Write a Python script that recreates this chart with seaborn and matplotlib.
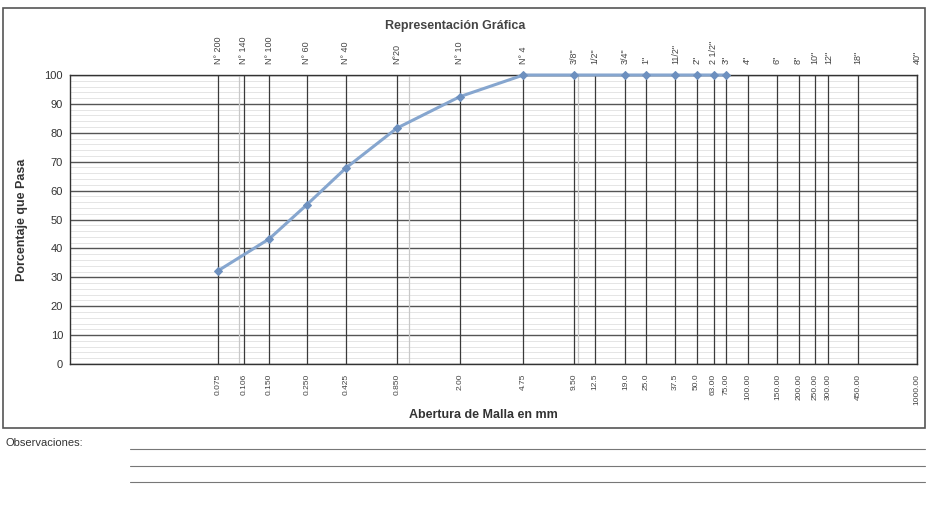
import numpy as np
import pandas as pd
import matplotlib
matplotlib.use('Agg')
import matplotlib.pyplot as plt
from matplotlib.patches import Rectangle
from matplotlib.lines import Line2D
from matplotlib.ticker import NullLocator, NullFormatter
import seaborn as sns

# sieve openings (mm) and their names
sizes_mm = [0.075, 0.106, 0.150, 0.250, 0.425, 0.850, 2.00, 4.75, 9.50, 12.5, 19.0, 25.0,
            37.5, 50.0, 63.0, 75.0, 100.0, 150.0, 200.0, 250.0, 300.0, 450.0, 1000.0]
mm_labels = ['0.075', '0.106', '0.150', '0.250', '0.425', '0.850', '2.00', '4.75', '9.50', '12.5',
             '19.0', '25.0', '37.5', '50.0', '63.00', '75.00', '100.00', '150.00', '200.00',
             '250.00', '300.00', '450.00', '1000.00']
sieve_labels = ['N° 200', 'N° 140', 'N° 100', 'N° 60', 'N° 40', 'N°20', 'N° 10', 'N° 4', '3/8"',
                '1/2"', '3/4"', '1"', '11/2"', '2"', '2 1/2"', '3"', '4"', '6"', '8"', '10"',
                '12"', '18"', '40"']

# grading curve
curve_mm = [0.075, 0.150, 0.250, 0.425, 0.850, 2.00, 4.75, 9.50, 19.0, 25.0, 37.5, 50.0, 63.0, 75.0]
curve_pass = [32.3, 43.3, 55.1, 67.8, 81.6, 92.5, 100, 100, 100, 100, 100, 100, 100, 100]

sns.set_style('white')
plt.rcParams['font.family'] = ['Liberation Sans', 'DejaVu Sans']

W, H = 927, 508
fig = plt.figure(figsize=(W / 100, H / 100), dpi=100)
ax = fig.add_axes([70 / W, 1 - 364 / H, 847 / W, 289 / H])

df = pd.DataFrame({'mm': curve_mm, 'pasa': curve_pass})
sns.lineplot(data=df, x='mm', y='pasa', ax=ax, color='#86a6cf', linewidth=2.2,
             marker='D', markersize=3.6, markerfacecolor='#6d90bf', markeredgecolor='#6d90bf',
             zorder=5, clip_on=False)

ax.set_xscale('log')
ax.set_xlim(0.01, 1000)
ax.set_ylim(0, 100)

# bottom axis: openings in mm
ax.set_xticks(sizes_mm)
ax.set_xticklabels(mm_labels, rotation=90, fontsize=6, color='#444')
ax.set_xticks([0.1, 1, 10], minor=True)
ax.xaxis.set_minor_formatter(NullFormatter())
ax.tick_params(axis='x', which='both', length=0, pad=7)

ax.set_yticks(range(0, 101, 10))
ax.set_yticks(range(0, 101, 2), minor=True)
ax.tick_params(axis='y', which='both', length=0, pad=5, labelsize=8, labelcolor='#333')

ax.grid(axis='x', which='major', color='#3a3a3a', linewidth=0.9)
ax.grid(axis='x', which='minor', color='#c8c8c8', linewidth=0.9)
ax.grid(axis='y', which='major', color='#555555', linewidth=1.0)
ax.grid(axis='y', which='minor', color='#dadada', linewidth=0.5)
ax.set_axisbelow(True)
# vertical sieve lines over the fine horizontal ruling
ax.xaxis.set_zorder(0.6)
for s in ax.spines.values():
    s.set_color('#333')
    s.set_linewidth(1.0)
ax.set_xlabel('')
ax.set_ylabel('')

# top axis: sieve names
top = ax.secondary_xaxis('top')
top.set_xticks(sizes_mm)
top.set_xticklabels(sieve_labels, rotation=90, fontsize=6.5, color='#444')
top.xaxis.set_minor_locator(NullLocator())
top.tick_params(axis='x', which='both', length=0, pad=8)
top.spines['top'].set_visible(False)

fig.text(455 / W, 1 - 26 / H, 'Representación Gráfica', ha='center', va='center',
         fontsize=9, fontweight='bold', color='#444')
fig.text(483 / W, 1 - 415 / H, 'Abertura de Malla en mm', ha='center', va='center',
         fontsize=9, fontweight='bold', color='#333')
fig.text(22 / W, 1 - 220 / H, 'Porcentaje que Pasa', ha='center', va='center',
         rotation=90, fontsize=9, fontweight='bold', color='#333')

# form frame and observations block
fig.patches.append(Rectangle((3 / W, 1 - 428 / H), 922 / W, 420 / H, transform=fig.transFigure,
                             fill=False, edgecolor='#555', linewidth=1.2))
fig.text(5 / W, 1 - 443 / H, 'Observaciones:', ha='left', va='center', fontsize=8, color='#333')
for yy in [449, 466, 482]:
    fig.lines.append(Line2D([130 / W, 925 / W], [1 - yy / H, 1 - yy / H],
                            transform=fig.transFigure, color='#777', linewidth=0.8))

fig.savefig('out.png', dpi=100)
